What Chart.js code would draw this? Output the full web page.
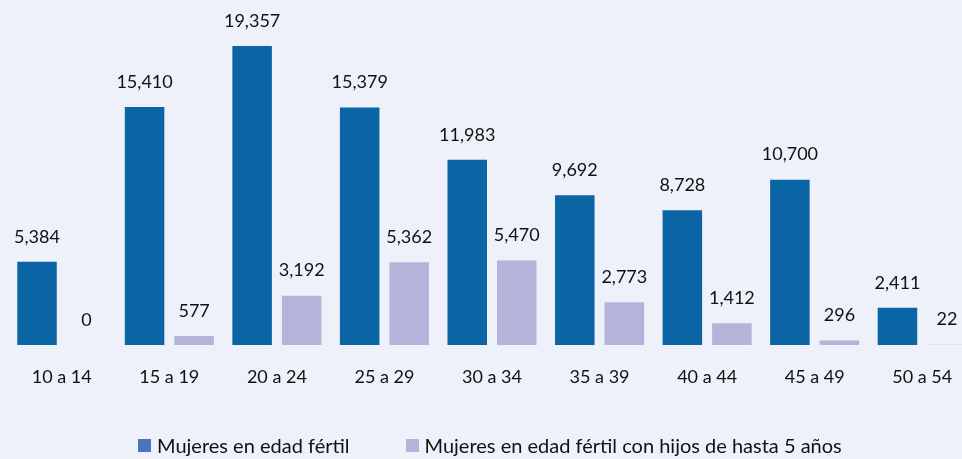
<!DOCTYPE html>
<html>
<head>
<meta charset="utf-8">
<script src="https://cdn.jsdelivr.net/npm/chart.js@4/dist/chart.umd.min.js"></script>
<style>
  html, body { margin: 0; padding: 0; background: #eef1f9; overflow: hidden; }
  .wrap { position: relative; width: 976px; height: 459px; }
  .legend {
    position: absolute; left: 138px; top: 433px;
    display: flex; gap: 56px;
    font-family: Lato, sans-serif; font-size: 20px; color: #111;
  }
  .legend span { display: flex; align-items: center; }
  .legend i { display: inline-block; width: 13px; height: 13px; margin-right: 6px; }
</style>
</head>
<body>
<div class="wrap">
  <canvas id="chart" width="976" height="459"></canvas>
  <div class="legend">
    <span><i style="background:#4a74bb"></i>Mujeres en edad fértil</span>
    <span><i style="background:#b4b4da"></i>Mujeres en edad fértil con hijos de hasta 5 años</span>
  </div>
</div>
<script>
const categories = ['10 a 14', '15 a 19', '20 a 24', '25 a 29', '30 a 34', '35 a 39', '40 a 44', '45 a 49', '50 a 54'];
const fertiles = [5384, 15410, 19357, 15379, 11983, 9692, 8728, 10700, 2411];
const conHijos = [0, 577, 3192, 5362, 5470, 2773, 1412, 296, 22];
const seriesNames = ['Mujeres en edad fértil', 'Mujeres en edad fértil con hijos de hasta 5 años'];

// valores encima de cada barra
const barValues = {
  id: 'barValues',
  afterDatasetsDraw(chart) {
    const ctx = chart.ctx;
    ctx.save();
    ctx.font = '18px Lato, sans-serif';
    ctx.fillStyle = '#111';
    ctx.textAlign = 'center';
    ctx.textBaseline = 'middle';
    chart.data.datasets.forEach((ds, i) => {
      chart.getDatasetMeta(i).data.forEach((bar, j) => {
        ctx.fillText(ds.data[j].toLocaleString('en-US'), bar.x, bar.y - 25);
      });
    });
    ctx.restore();
  }
};

new Chart(document.getElementById('chart'), {
  type: 'bar',
  data: {
    labels: categories,
    datasets: [
      { label: seriesNames[0], data: fertiles, backgroundColor: '#0b65a4' },
      { label: seriesNames[1], data: conHijos, backgroundColor: '#b4b4da' },
    ],
  },
  options: {
    responsive: false,
    animation: false,
    layout: { padding: { left: 8, right: 0, top: 36, bottom: 0 } },
    datasets: { bar: { categoryPercentage: 0.921, barPercentage: 0.798 } },
    plugins: { legend: { display: false }, tooltip: { enabled: false } },
    scales: {
      x: {
        grid: { display: false, drawTicks: false },
        border: { display: false },
        ticks: { padding: 21, color: '#111', font: { family: 'Lato', size: 18 } },
        afterFit(scale) { scale.height = 114; },
      },
      y: { display: false, min: 0, max: 20000 },
    },
  },
  plugins: [barValues],
});
</script>
</body>
</html>
